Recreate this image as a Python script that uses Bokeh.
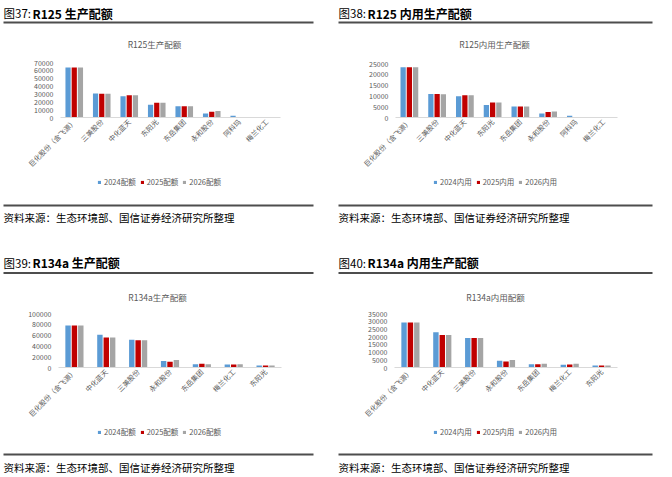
import math
from bokeh.plotting import figure
from bokeh.models import (FactorRange, Range1d, FixedTicker, Label, BoxAnnotation,
                          Legend, LegendItem, NumeralTickFormatter, ColumnDataSource)
from bokeh.transform import dodge
from bokeh.layouts import column, row
from bokeh.embed import file_html
from bokeh.resources import INLINE

# ---------------- data ----------------
r125_cats = ["巨化股份（含飞源）", "三美股份", "中化蓝天", "东阳光", "东岳集团", "永和股份", "阿科玛", "梅兰化工"]
r125_2024 = [63500, 30500, 27000, 16300, 14200, 5000, 2300, 0]
r125_2025 = [63500, 30300, 28300, 18900, 14200, 7300, 0, 0]
r125_2026 = [63500, 30300, 28300, 18900, 14200, 8200, 0, 0]

r125_dom_2024 = [23300, 10900, 9850, 5800, 5150, 1830, 830, 0]
r125_dom_2025 = [23300, 10900, 10300, 6900, 5150, 2500, 0, 0]
r125_dom_2026 = [23300, 10800, 10300, 6900, 5150, 2830, 0, 0]

r134a_cats = ["巨化股份（含飞源）", "中化蓝天", "三美股份", "永和股份", "东岳集团", "梅兰化工", "东阳光"]
r134a_2024 = [78000, 60600, 51200, 11900, 6250, 5600, 3750]
r134a_2025 = [78000, 55600, 50600, 10600, 6900, 5600, 3750]
r134a_2026 = [78000, 55600, 50600, 13700, 6250, 6250, 3750]

r134a_dom_2024 = [29100, 22800, 19100, 4350, 2170, 1740, 1300]
r134a_dom_2025 = [29100, 21100, 19100, 3900, 2170, 1950, 1300]
r134a_dom_2026 = [29100, 21100, 19100, 4800, 2400, 2400, 1300]

quota_labels = ["2024配额", "2025配额", "2026配额"]
dom_labels = ["2024内用", "2025内用", "2026内用"]

SOURCE = "资料来源：生态环境部、国信证券经济研究所整理"
FONT = "Noto Sans CJK SC"
COLORS = ["#5B9BD5", "#C00000", "#A5A5A5"]
GREY = "#595959"
RULE = "#4D4D4D"


def no_align(f):
    try:
        f.frame_align = False
    except Exception:
        pass
    return f


def blank(W, H):
    f = figure(width=W, height=H, x_range=Range1d(0, W), y_range=Range1d(H, 0),
               x_axis_type=None, y_axis_type=None, output_backend="svg",
               toolbar_location=None, min_border=0)
    f.outline_line_color = None
    f.xgrid.visible = False
    f.ygrid.visible = False
    f.background_fill_color = "white"
    f.border_fill_color = "white"
    return no_align(f)


def rule(f, x0, x1, y):
    f.add_layout(BoxAnnotation(left=x0, right=x1, top=y - 1, bottom=y + 1,
                               fill_color=RULE, fill_alpha=1, line_color=None))


def style_axis(ax):
    ax.major_tick_line_color = None
    ax.minor_tick_line_color = None
    ax.major_tick_out = 0
    ax.major_tick_in = 0
    ax.minor_tick_out = 0
    ax.minor_tick_in = 0
    ax.axis_label_standoff = 0
    ax.major_label_text_font = FONT
    ax.major_label_text_font_size = "7px"
    ax.major_label_text_color = GREY


def panel(fig_no, fig_title, chart_title, cats, series, labels, ymax, ystep, g):
    W = g["W"]
    # ---- header: figure caption, rule, chart title ----
    hh = g["hh"]
    hd = blank(W, hh)
    hd.add_layout(Label(x=g["hx"], y=g["hy"], text=fig_no, text_font=FONT,
                        text_font_size="11.5px", text_color="#000000",
                        text_baseline="middle", text_align="left"))
    hd.add_layout(Label(x=g["hx"] + 29, y=g["hy"], text=fig_title, text_font=FONT,
                        text_font_size="12px", text_font_style="bold", text_color="#000000",
                        text_baseline="middle", text_align="left"))
    rule(hd, g["hx"], g["rx"], g["r1"])
    hd.add_layout(Label(x=g["tx"], y=g["ty"], text=chart_title, text_font=FONT,
                        text_font_size="8.5px", text_color=GREY,
                        text_baseline="middle", text_align="center"))

    # ---- chart ----
    ch = g["ch"]
    fl, fr, ft, fb = g["frame"]
    p = figure(width=W, height=ch, x_range=FactorRange(*cats), y_range=Range1d(0, ymax),
               output_backend="svg", toolbar_location=None,
               min_border_left=fl, min_border_right=W - fr,
               min_border_top=ft, min_border_bottom=ch - fb)
    no_align(p)
    p.outline_line_color = None
    p.xgrid.visible = False
    p.ygrid.visible = False
    p.background_fill_color = "white"
    p.border_fill_color = "white"

    src = ColumnDataSource(dict(cat=cats, s0=series[0], s1=series[1], s2=series[2]))
    bw, off = g["bar"]
    for i, key in enumerate(["s0", "s1", "s2"]):
        p.vbar(x=dodge("cat", (i - 1) * off, range=p.x_range), top=key, width=bw,
               bottom=0, source=src, fill_color=COLORS[i], line_color=None)

    xa = p.xaxis[0]
    style_axis(xa)
    xa.axis_line_color = "#D9D9D9"
    xa.axis_line_width = 1
    xa.major_label_orientation = math.pi / 4
    xa.major_label_standoff = 3

    ya = p.yaxis[0]
    style_axis(ya)
    ya.axis_line_color = None
    ya.ticker = FixedTicker(ticks=list(range(0, ymax + 1, ystep)))
    ya.formatter = NumeralTickFormatter(format="0")
    ya.major_label_standoff = 7

    # ---- footer: legend, rule, source ----
    fh = g["fh"]
    ft_ = blank(W, fh)
    # legend swatches (zero-height, off-canvas bars used only as legend glyphs)
    rs = [ft_.vbar(x=[-50], top=[0], bottom=[0], width=1, fill_color=COLORS[i],
                   line_color=None) for i in range(3)]
    items = [LegendItem(label=labels[i], renderers=[rs[i]]) for i in range(3)]
    leg = Legend(items=items, orientation="horizontal",
                 location=(g["lx"], fh - g["ly"] - 5),
                 glyph_width=4, glyph_height=4, label_height=10, label_width=10,
                 label_standoff=3, spacing=4, padding=0, margin=0,
                 border_line_color=None, background_fill_alpha=0,
                 label_text_font=FONT, label_text_font_size="7.5px",
                 label_text_color=GREY)
    ft_.add_layout(leg)
    rule(ft_, g["hx"], g["rx"], g["r2"])
    ft_.add_layout(Label(x=g["hx"], y=g["sy"], text=SOURCE, text_font=FONT,
                         text_font_size="10.5px", text_color="#000000",
                         text_baseline="middle", text_align="left"))
    return column(hd, p, ft_)


# top panels: canvas rows 0..52 header, 52..176 chart, 176..240 footer
g_tl = dict(W=336, hh=52, ch=124, fh=64, frame=(60, 280, 10, 65), bar=(0.19, 0.225),
            hx=3, hy=12.5, rx=313, r1=22, tx=154, ty=43.5, lx=97, ly=6, r2=29, sy=40.5)
g_tr = dict(W=336, hh=52, ch=124, fh=64, frame=(59, 281, 11, 65), bar=(0.19, 0.225),
            hx=2, hy=12.5, rx=316, r1=22, tx=158, ty=43.5, lx=97, ly=6, r2=29, sy=40.5)
# bottom panels: canvas rows 0..64 header, 64..185 chart, 185..236 footer
g_bl = dict(W=336, hh=64, ch=121, fh=51, frame=(58, 281, 9, 63), bar=(0.17, 0.2),
            hx=3, hy=22, rx=313, r1=32.5, tx=157, ty=56, lx=97, ly=7, r2=29, sy=41.7)
g_br = dict(W=336, hh=64, ch=121, fh=51, frame=(58, 281, 9, 63), bar=(0.17, 0.2),
            hx=2, hy=22, rx=316, r1=32.5, tx=159, ty=56, lx=97, ly=7, r2=29, sy=41.7)

p1 = panel("图37:", "R125 生产配额", "R125生产配额", r125_cats,
           [r125_2024, r125_2025, r125_2026], quota_labels, 70000, 10000, g_tl)
p2 = panel("图38:", "R125 内用生产配额", "R125内用生产配额", r125_cats,
           [r125_dom_2024, r125_dom_2025, r125_dom_2026], dom_labels, 25000, 5000, g_tr)
p3 = panel("图39:", "R134a 生产配额", "R134a生产配额", r134a_cats,
           [r134a_2024, r134a_2025, r134a_2026], quota_labels, 100000, 20000, g_bl)
p4 = panel("图40:", "R134a 内用生产配额", "R134a内用配额", r134a_cats,
           [r134a_dom_2024, r134a_dom_2025, r134a_dom_2026], dom_labels, 35000, 5000, g_br)

layout = column(row(p1, p2), row(p3, p4))
open("out.html", "w").write(file_html(layout, INLINE))
